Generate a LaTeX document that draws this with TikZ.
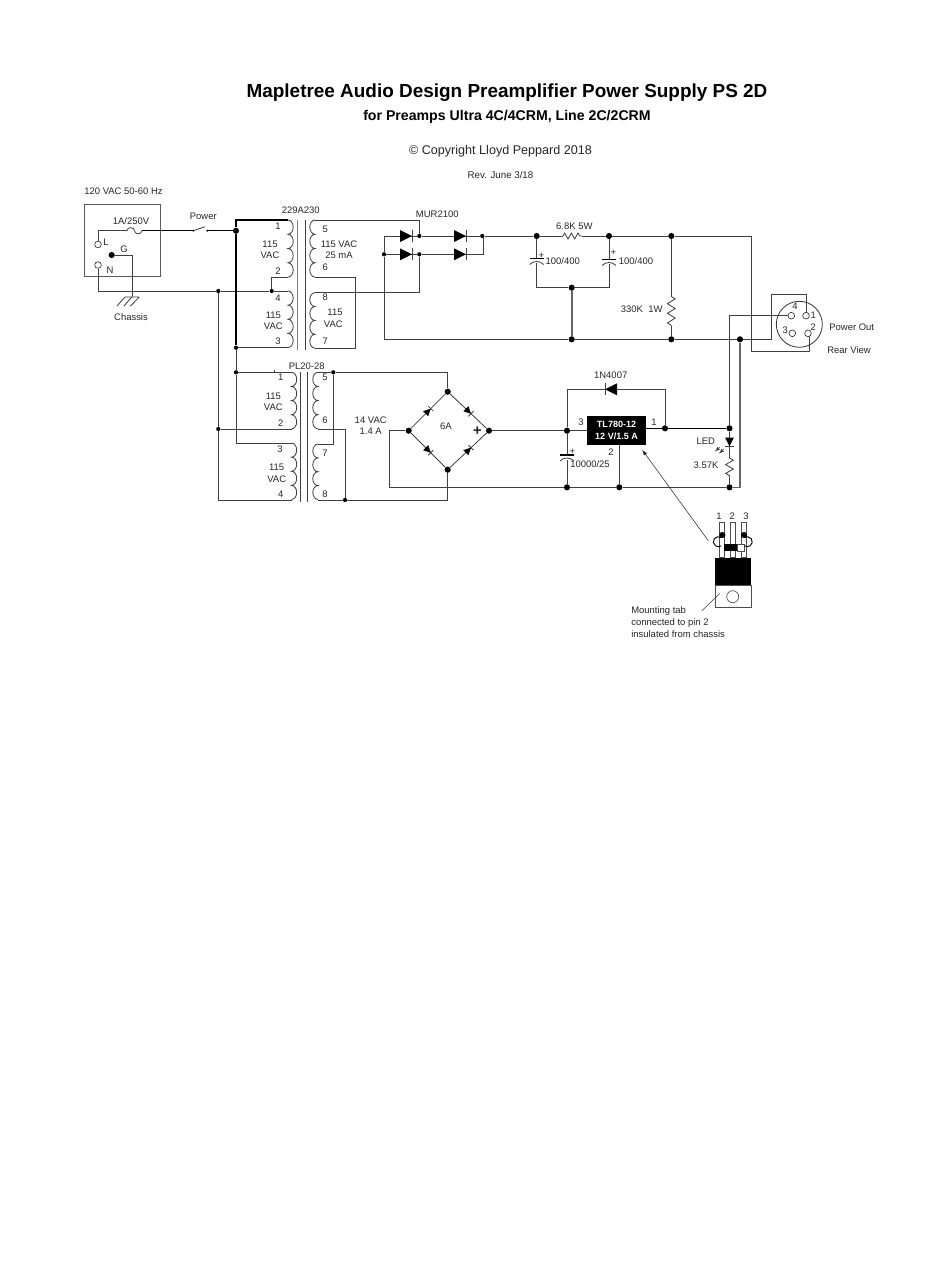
\documentclass[tikz,border=0pt]{standalone}
\usepackage{fontspec}
\setmainfont{Liberation Sans}
\usetikzlibrary{arrows,calc,positioning,decorations.pathmorphing}

\tikzset{
   wire/.style={draw=black!75, line width=0.62pt},
   heavy/.style={draw=black, line width=0.85pt},
   fatgray/.style={draw=black!60, line width=1.2pt},
   dot/.style={circle, fill=black, inner sep=0pt, minimum size=4.6pt},
   smalldot/.style={circle, fill=black, inner sep=0pt, minimum size=3.2pt},
   term/.style={circle, draw=black!80, line width=0.5pt, fill=white, inner sep=0pt, minimum size=5pt},
   lbl/.style={font=\fontsize{7.1}{8}\selectfont, inner sep=0pt, text=black!85},
   rzig/.style={wire, decorate, decoration={zigzag, amplitude=2.9pt, segment length=#1, pre length=0pt, post length=0pt}},
   diode/.pic={
      \fill[black] (-6,-6) -- (6,0) -- (-6,6) -- cycle;
      \draw[wire] (6,-6) -- (6,6);
   },
   capsym/.pic={
      \draw[line width=0.8pt, black] (-7,0) -- (7,0);
      \draw[wire] (-7,6) .. controls (-3,2) and (3,2) .. (7,6);
   }
}

% one winding: x, y, first and last angle, half height of a turn
\newcommand{\windg}[5]{
   \draw[wire] (#1,#2) \foreach \k in {1,2,3,4} { arc[start angle=#3, end angle=#4, x radius=3.9pt, y radius=#5] };
}

\begin{document}
\begin{tikzpicture}[x=0.75pt, y=-0.75pt]
   \useasboundingbox (0,0) rectangle (950,1267);

   % headings
   \node[inner sep=0pt, font=\fontsize{14.2}{15}\selectfont\bfseries] (title) at (507,93) {Mapletree Audio Design Preamplifier Power Supply PS 2D};
   \node[inner sep=0pt, font=\fontsize{10.6}{12}\selectfont\bfseries] (subtitle) at (507,117) {for Preamps Ultra 4C/4CRM, Line 2C/2CRM};
   \node[lbl, font=\fontsize{9.45}{11}\selectfont] (copyr) at (500.5,151.5) {© Copyright Lloyd Peppard 2018};
   \node[lbl, font=\fontsize{7.3}{8}\selectfont] (rev) at (500.5,175) {Rev. June 3/18};
   \node[lbl] (mains) at (123.5,191) {120 VAC 50-60 Hz};

   % inlet box
   \node[draw=black!65, line width=0.7pt, inner sep=0pt, minimum width=57pt, minimum height=54pt] (inlet) at (122.7,240) {};

   % package
   \foreach \name/\x in {leg1/719.3, leg2/730.3, leg3/741.3}
      \node[draw=black!70, line width=0.4pt, fill=white, inner sep=0pt, minimum width=3.5pt, minimum height=26.5pt, anchor=north west] (\name) at (\x,521.7) {};
   \node[fill=black, inner sep=0pt, minimum width=27pt, minimum height=20.6pt, anchor=north west] (tabTop) at (715,557.3) {};
   \node[draw=black!70, line width=0.4pt, inner sep=0pt, minimum width=27pt, minimum height=16.6pt, anchor=north west] (tabLow) at (715,585) {};
   \node[circle, draw=black!70, line width=0.5pt, inner sep=0pt, minimum size=9pt] (tabHole) at (732.7,596.7) {};
   \node[fill=black, inner sep=0pt, minimum width=10.5pt, minimum height=5pt, anchor=north west] (bead) at (723.3,544) {};
   \node[draw=black!70, line width=0.4pt, fill=white, inner sep=0pt, minimum width=5pt, minimum height=5pt, anchor=north west] (beadEnd) at (737.3,544) {};

   % junctions
   \foreach \name/\x/\y in {dPow/236/230.7, dG/111.7/255, dC1/536.7/236, dC2/609/236, dR3/671.3/236, dCb/571.7/287.7, dGa/571.7/339.3, dGb/671.3/339.3, dGc/740/339.3,
         dBt/447.7/391.7, dBl/408.7/430.7, dBr/489/430.7, dBb/447.7/469.7, dIn/567/430.7, dInb/567/487.3, dAdj/619.3/487.3, dOut/665/428.3, dLed/729.5/428.3, dLedb/729.5/487.3, dTa/722.3/535, dTc/744/535}
      \node[dot] (\name) at (\x,\y) {};
   \foreach \name/\x/\y in {dN/218.3/291, dTr/271.7/291, dA3/236/347.7, dB1/236/372.3, dB2/218.3/429, dS5/333.3/372.3, dS8/345/500, dRa/384/254.3, dRu/419.3/236, dRv/419.3/254.3, dRw/482.3/236}
      \node[smalldot] (\name) at (\x,\y) {};
   \node[term] (tL) at (98,244.5) {};
   \node[term] (tN) at (98,265) {};

   % corners and ends
   \foreach \name/\x/\y in {A1/288/220, A2/288/277.5, A4/288/291, A3/288/347.7, A5/315/220, A6/315/277.5, A8/315/292.7, A7/315/348.3,
         B1/291.5/372.3, B2/291.5/429, B3/291.5/443, B4/291.5/500, B5/318/372.3, B6/318/429, B7/318/444, B8/318/500,
         topL/236/220, lowL/236/443, wS6/355/277.5, gndA/132.7/297, fuseA/127/230.7, fuseB/142/230.7, swA/193.3/230.7, swB/207.3/230.7,
         r1a/563/236, r1b/582/236, r2a/671.3/296.5, r2b/671.3/326, r3a/729.5/458, r3b/729.5/477.5,
         c1t/536.7/258.5, c1b/536.7/263, c2t/609/259.5, c2b/609/264, c3t/567/455, c3b/567/460,
         regL/587.3/430.7, regR/646/428.3, regB/619.3/444.7, arrA/708.3/540.7, arrB/642.3/450,
         j1/806.7/313, j2/809.3/337, legA/720/593.3, legB/701.7/611, loopA/721.2/537.6, loopC/744.4/537.6}
      \coordinate (\name) at (\x,\y);

   % mains side
   \draw[wire] (tL) |- (fuseA);
   \draw[wire] (fuseA) arc[start angle=180, end angle=0, x radius=2.8pt, y radius=2.3pt] arc[start angle=180, end angle=360, x radius=2.8pt, y radius=2.3pt];
   \draw[heavy] (fuseB) -- (swA);
   \draw[wire] (swA) -- ++(11.7,-4);
   \draw[heavy] (swB) -- (dPow);
   \fill[black] (swA) circle (0.8pt) (swB) circle (0.8pt);
   \draw[wire] (dG) -| (gndA);
   \draw[wire] (125,297) -- (139.3,297) (125,297) -- (117,306) (131.7,297) -- (124,306) (139.3,297) -- (130.5,306);
   \draw[wire] (tN) |- (dN);
   \draw[wire] (dN) -- (dTr);
   \draw[wire] (dTr) -- (A4);
   \draw[wire] (dTr) |- (A2);
   \draw[heavy] (A1) -- (topL) -- (dPow) -- (dA3);
   \draw[wire] (dA3) -- (A3);
   \draw[wire] (dA3) -- (dB1) -- (lowL) -- (B3);
   \draw[wire] (dB1) -- (B1);
   \draw[wire] (274,372.3) -- (274,369.5);
   \draw[wire] (dN) -- (dB2);
   \draw[wire] (dB2) -- (B2);
   \draw[wire] (dB2) |- (B4);

   % windings
   \windg{288}{220}{90}{-90}{5.35pt}
   \windg{288}{291}{90}{-90}{5.3pt}
   \windg{315}{220}{90}{270}{5.35pt}
   \windg{315}{292.7}{90}{270}{5.2pt}
   \windg{291.5}{372.3}{90}{-90}{5.3pt}
   \windg{291.5}{443}{90}{-90}{5.3pt}
   \windg{318}{372.3}{90}{270}{5.3pt}
   \windg{318}{444}{90}{270}{5.2pt}
   \draw[draw=black!50, line width=1pt] (297.7,220) -- (297.7,350);
   \draw[wire] (305.7,220) -- (305.7,350);
   \draw[wire] (300.7,372) -- (300.7,501.5);
   \draw[wire] (307.7,372) -- (307.7,501.5);

   % rectifier and filter
   \draw[wire] (A5) -| (dRu);
   \draw[wire] (A6) -| (wS6) |- (A7);
   \draw[wire] (A8) -| (dRv);
   \draw[wire] (dRa) -- (dRv);
   \draw[wire] (dRa) |- (dRu);
   \draw[wire] (dRa) |- (dGa);
   \draw[wire] (dRu) -- (dRw) -- (dC1) -- (r1a);
   \draw[wire] (dRv) -- (483.7,254.3) -- (483.7,236);
   \draw[rzig=5pt, decoration={amplitude=2.2pt}] (r1a) -- (r1b);
   \draw[wire] (r1b) -- (dC2) -- (dR3);
   \draw[wire] (dR3) -| (751.7,351) -| (j2);
   \draw[wire] (j2) -- (808,333);
   \draw[wire] (dC1) -- (c1t);
   \draw[wire] (dC2) -- (c2t);
   \draw[wire] (c1b) |- (dCb);
   \draw[wire] (c2b) |- (dCb);
   \draw[fatgray] (dCb) -- (dGa);
   \draw[wire] (dGa) -- (dGb) -- (dGc);
   \draw[wire] (dGc) -| (771.7,294.3) -| (j1);
   \draw[wire] (dR3) -- (r2a);
   \draw[rzig=7.2pt] (r2a) -- (r2b);
   \draw[wire] (r2b) -- (dGb);
   \foreach \x/\y in {406/236, 406/254.3, 460/236, 460/254.3}
      \pic at (\x,\y) {diode};
   \pic at (536.7,258.5) {capsym};
   \pic at (609,259.5) {capsym};

   % bridge
   \draw[wire] (B1) -- (dB1);
   \draw[wire] (B5) -- (dS5);
   \draw[wire] (dS5) -| (dBt);
   \draw[wire] (dS5) |- (B7);
   \draw[wire] (B6) -| (dS8);
   \draw[wire] (B8) -- (dS8);
   \draw[wire] (dS8) -| (dBb);
   \draw[wire] (dBl) -- (dBt) -- (dBr) -- (dBb) -- (dBl);
   \draw[wire] (dBl) -| (389.3,487.3) -- (dInb);
   \pic[rotate=45, scale=0.6] at (428.2,411.2) {diode};
   \pic[rotate=-45, scale=0.6] at (468.4,411.2) {diode};
   \pic[rotate=-45, scale=0.6] at (428.2,450.2) {diode};
   \pic[rotate=45, scale=0.6] at (468.4,450.2) {diode};

   % regulator
   \node[fill=black, text=white, inner sep=0pt, minimum width=44pt, minimum height=21.5pt, align=center, font=\fontsize{6.8}{9.4}\selectfont\bfseries] (reg) at (616.6,430.4) {TL780-12\\12 V/1.5 A};
   \draw[wire] (dBr) -- (dIn) -- (regL);
   \draw[wire] (dIn) |- (605,389.3);
   \draw[wire] (617,389.3) -| (dOut);
   \pic[rotate=180] at (611,389.3) {diode};
   \draw[wire] (dIn) -- (c3t);
   \draw[wire] (c3b) -- (dInb);
   \pic at (567,455) {capsym};
   \draw[wire] (dInb) -- (dAdj) -- (dLedb);
   \draw[wire] (regB) -- (dAdj);
   \draw[heavy] (regR) -- (dOut) -- (dLed);
   \draw[fatgray] (dGc) |- (dLedb);
   \draw[wire] (dLed) -- (r3a);
   \draw[rzig=6.6pt] (r3a) -- (r3b);
   \draw[wire] (r3b) -- (dLedb);
   \pic[rotate=-90, scale=0.72] at (729.5,442) {diode};
   \draw[wire, -latex, line width=0.3pt] (724,449) -- ++(-5,4.5);
   \draw[wire, -latex, line width=0.3pt] (720,447) -- ++(-5,4.5);
   \draw[line width=0.4pt, black!85, -latex] (arrA) -- (arrB);

   % connector
   \node[circle, draw=black!80, line width=0.6pt, inner sep=0pt, minimum size=34.5pt] (xlr) at (799.3,324.3) {};
   \node[term] (pin1) at (806,315.7) {};
   \node[term] (pin4) at (791.3,315.7) {};
   \node[term] (pin3) at (792.3,333.3) {};
   \node[term] (pin2) at (808,333.3) {};
   \draw[wire] (j1) -- (pin1);
   \draw[wire] (pin4) -| (dLed);

   % package loops and leader
   \draw[line width=0.7pt, black] (loopA) arc[start angle=55, end angle=305, radius=3.75pt];
   \draw[line width=0.7pt, black] (loopC) arc[start angle=125, end angle=-125, radius=3.75pt];
   \draw[line width=0.4pt, black!75] (legA) -- (legB);

   % labels
   \foreach \name/\x/\y/\txt in {lFuse/131/220.7/1A\slash 250V, lPow/203.3/216.7/Power, lL/106/242/L, lG/124/249.3/G, lN/110/270/N, lCh/131/316.7/Chassis,
         lA/300.7/210/229A230, nA1/278/226/1, vA1/270/244/115, vA2/270/255.7/VAC, nA2/278/270.7/2, nA4/278/298.3/4, vA3/273.3/315/115, vA4/273.3/326.7/VAC, nA3/278/341.7/3,
         nA5/325.3/229.3/5, vA5/339/244/115 VAC, vA6/339/255.7/25 mA, nA6/325.3/267.7/6, nA8/325.3/297.3/8, vA7/335/312.3/115, vA8/333.3/324/VAC, nA7/325.3/341/7,
         lMur/437.3/214/MUR2100, lR1/574.3/226.7/6.8K 5W, lC1/562.7/260.7/100\slash 400, lC2/636/261.3/100\slash 400, lR2/641.7/309.3/330K\ \ 1W, pC1/541.3/255.3/+, pC2/613.3/252.3/+,
         nX4/795/306.7/4, nX1/813.3/315.7/1, nX3/785.3/330.7/3, nX2/813.3/327.3/2, lOut/851.7/327.7/Power Out, lRear/849/350/Rear View,
         lB/306.7/366/PL20-28, nB1/280.7/377.7/1, vB1/273.3/396/115, vB2/273.3/407.3/VAC, nB2/280.7/422.7/2, nB3/280/449.7/3, vB3/276.7/467.7/115, vB4/276.7/479/VAC, nB4/280.7/494.3/4,
         nB5/325/377.7/5, nB6/325/420/6, nB7/325/453.3/7, nB8/325/494.3/8, lV1/370.7/420/14 VAC, lV2/370.7/431.7/1.4 A, l6A/446/426.7/6A,
         lD/610.7/375.7/1N4007, nR3/581/422.3/3, nR1/654/422.3/1, nR2/611/452/2, lC3/590/463.7/10000\slash 25, pC3/572.3/451.3/+, lLed/705.7/441.7/LED, lR3/706/465/3.57K,
         nT1/719/516/1, nT2/732.3/516/2, nT3/746/516/3}
      \node[lbl] (\name) at (\x,\y) {\txt};
   \node[lbl, font=\fontsize{11}{12}\selectfont\bfseries] (lPlus) at (477.3,431.3) {+};
   \node[lbl, anchor=west] (lTabA) at (631,610.7) {Mounting tab};
   \node[lbl, anchor=west] (lTabB) at (631,622.7) {connected to pin 2};
   \node[lbl, anchor=west] (lTabC) at (631,633.7) {insulated from chassis};
\end{tikzpicture}
\end{document}
